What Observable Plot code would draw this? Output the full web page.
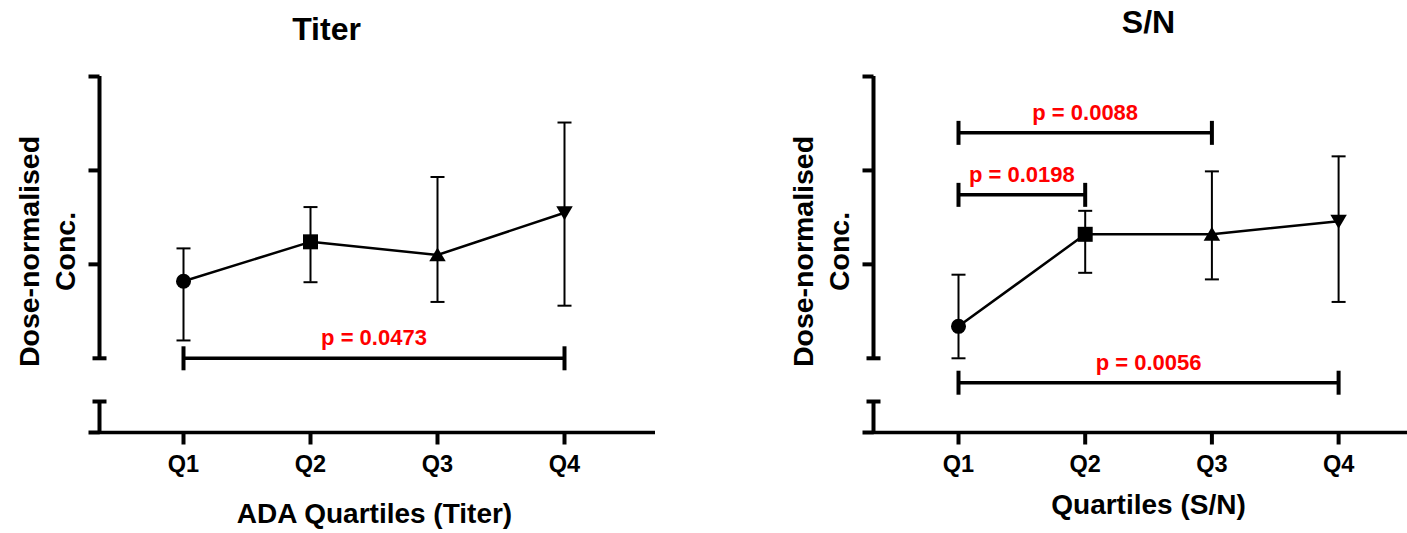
<!DOCTYPE html>
<html><head><meta charset="utf-8">
<script src="https://cdn.jsdelivr.net/npm/d3@7"></script>
<script src="https://cdn.jsdelivr.net/npm/@observablehq/plot@0.6"></script>
<style>
html,body{margin:0;padding:0;background:#fff;}
#wrap{display:flex;width:1407px;height:533px;overflow:hidden;}
#wrap svg{display:block;}
</style></head><body><div id="wrap"></div>
<script>
// ---- data ----
const quartiles = ["Q1", "Q2", "Q3", "Q4"];
// Titer panel: mean and error-bar limits (arbitrary dose-normalised units)
const titerMean = [1.82, 2.24, 2.10, 2.55];
const titerLow  = [1.19, 1.81, 1.60, 1.56];
const titerHigh = [2.17, 2.61, 2.93, 3.51];
// S/N panel
const snMean = [1.34, 2.32, 2.32, 2.46];
const snLow  = [1.00, 1.91, 1.84, 1.60];
const snHigh = [1.89, 2.57, 2.99, 3.15];
// significance brackets
const titerTestFrom = ["Q1"], titerTestTo = ["Q4"], titerTestLevel = [1.00], titerTestP = ["0.0473"];
const snTestFrom = ["Q1", "Q1", "Q1"], snTestTo = ["Q3", "Q2", "Q4"], snTestLevel = [3.40, 2.74, 0.74], snTestP = ["0.0088", "0.0198", "0.0056"];
// axis (unlabelled ticks, broken y axis)
const yTicks = [1, 2, 3, 4];
const yBreak = [0.21, 0.54];
const panelTitles = ["Titer", "S/N"];
const xTitles = ["ADA Quartiles (Titer)", "Quartiles (S/N)"];
const yTitleLines = ["Dose-normalised", "Conc."];

// ---- helpers ----
const FONT = "'Liberation Sans', Arial, Helvetica, sans-serif";
const sym = f => ({draw(c, size) { f(c, Math.sqrt(size / Math.PI)); }});
const hCap = sym((c, r) => { c.moveTo(-r, 0); c.lineTo(r, 0); });
const vCap = sym((c, r) => { c.moveTo(0, -r); c.lineTo(0, r); });
const leftTick = sym((c, r) => { c.moveTo(-r, 0); c.lineTo(0, 0); });
const downTick = sym((c, r) => { c.moveTo(0, 0); c.lineTo(0, r); });
const circle = sym((c, r) => { c.moveTo(r, 0); c.arc(0, 0, r, 0, 2 * Math.PI); });
const square = sym((c, r) => { c.rect(-r, -r, 2 * r, 2 * r); });
const triUp = sym((c, r) => { c.moveTo(0, -r * 1.0); c.lineTo(r * 1.1, r * 0.85); c.lineTo(-r * 1.1, r * 0.85); c.closePath(); });
const triDown = sym((c, r) => { c.moveTo(0, r * 1.0); c.lineTo(r * 1.1, -r * 0.85); c.lineTo(-r * 1.1, -r * 0.85); c.closePath(); });
const markerSymbols = [circle, square, triUp, triDown];

function panel(cfg) {
  const {width, axisPx, q1Px, stepPx, rightPx, mean, low, high, from, to, level, pv,
         title, titleDx, titleDy, xTitle, xTitleDx, xTitleDy} = cfg;
  const height = 533, top = 76, bottom = 432;
  const xDomain = [1 + (axisPx - q1Px) / stepPx, 1 + (rightPx - q1Px) / stepPx];
  const yMin = yBreak[0], yMax = yTicks[yTicks.length - 1];
  const rows = quartiles.map((q, i) => ({q, k: i + 1, mean: mean[i], low: low[i], high: high[i]}));
  const tests = from.map((f, i) => ({from: f, to: to[i], level: level[i], p: pv[i]}));
  const kOf = q => quartiles.indexOf(q) + 1;
  const bold = {fontFamily: FONT, fontWeight: "bold"};
  const x0 = () => xDomain[0];
  const marks = [
    // broken y axis
    Plot.ruleX([0], {x: x0, y1: () => yTicks[0], y2: () => yMax, stroke: "black", strokeWidth: 4}),
    Plot.ruleX([0], {x: x0, y1: () => yMin, y2: () => yBreak[1], stroke: "black", strokeWidth: 4}),
    Plot.dot([yMin, ...yTicks.slice(1)], {x: x0, y: d => d, symbol: leftTick, r: 11, stroke: "black", strokeWidth: 4, fill: "none"}),
    Plot.dot([yTicks[0], yBreak[1]], {x: x0, y: d => d, symbol: hCap, r: 7, stroke: "black", strokeWidth: 4, fill: "none"}),
    // x axis
    Plot.ruleY([yMin], {stroke: "black", strokeWidth: 3.5}),
    Plot.dot(rows, {x: "k", y: () => yMin, symbol: downTick, r: 12, stroke: "black", strokeWidth: 4, fill: "none"}),
    Plot.text(rows, {x: "k", y: () => yMin, text: "q", dy: 39, lineAnchor: "bottom", fontSize: 23.5, fill: "black", ...bold}),
    // error bars
    Plot.ruleX(rows, {x: "k", y1: "low", y2: "high", stroke: "black", strokeWidth: 2}),
    Plot.dot(rows, {x: "k", y: "low", symbol: hCap, r: 7, stroke: "black", strokeWidth: 2, fill: "none"}),
    Plot.dot(rows, {x: "k", y: "high", symbol: hCap, r: 7, stroke: "black", strokeWidth: 2, fill: "none"}),
    // connecting line
    Plot.line(rows, {x: "k", y: "mean", stroke: "black", strokeWidth: 2.5}),
    // markers
    ...rows.map((d, i) => Plot.dot([d], {x: "k", y: "mean", symbol: markerSymbols[i], r: 7.5, fill: "black", stroke: "none"})),
    // significance brackets
    Plot.ruleY(tests, {y: "level", x1: d => kOf(d.from), x2: d => kOf(d.to), stroke: "black", strokeWidth: 3.5}),
    Plot.dot(tests, {x: d => kOf(d.from), y: "level", symbol: vCap, r: 12, stroke: "black", strokeWidth: 4, fill: "none"}),
    Plot.dot(tests, {x: d => kOf(d.to), y: "level", symbol: vCap, r: 12, stroke: "black", strokeWidth: 4, fill: "none"}),
    Plot.text(tests, {x: d => (kOf(d.from) + kOf(d.to)) / 2, y: "level", text: d => `p = ${d.p}`, dy: -13, lineAnchor: "bottom", fontSize: 22, fill: "#ff0000", ...bold}),
    // titles
    Plot.text([title], {text: d => d, frameAnchor: "top", lineAnchor: "bottom", dx: titleDx, dy: titleDy, fontSize: 32, fill: "black", ...bold}),
    Plot.text([xTitle], {text: d => d, frameAnchor: "bottom", lineAnchor: "bottom", dx: xTitleDx, dy: xTitleDy, fontSize: 28, fill: "black", ...bold}),
    Plot.text([yTitleLines[0]], {text: d => d, frameAnchor: "left", rotate: -90, lineAnchor: "bottom", textAnchor: "middle", dx: -61, dy: -3, fontSize: 28.5, fill: "black", ...bold}),
    Plot.text([yTitleLines[1]], {text: d => d, frameAnchor: "left", rotate: -90, lineAnchor: "bottom", textAnchor: "middle", dx: -25, dy: -3, fontSize: 28.5, fill: "black", ...bold})
  ];
  return Plot.plot({
    width, height,
    marginTop: top, marginBottom: height - bottom, marginLeft: axisPx, marginRight: width - rightPx,
    x: {type: "linear", domain: xDomain, axis: null},
    y: {type: "linear", domain: [yMin, yMax], axis: null},
    style: {fontFamily: FONT, background: "white", color: "black", overflow: "visible"},
    marks
  });
}

const wrap = document.getElementById("wrap");
wrap.appendChild(panel({
  width: 703, axisPx: 99, q1Px: 183, stepPx: 127, rightPx: 655,
  mean: titerMean, low: titerLow, high: titerHigh,
  from: titerTestFrom, to: titerTestTo, level: titerTestLevel, pv: titerTestP,
  title: panelTitles[0], titleDx: -51, titleDy: -37,
  xTitle: xTitles[0], xTitleDx: -3, xTitleDy: 90
}));
wrap.appendChild(panel({
  width: 704, axisPx: 170, q1Px: 255, stepPx: 126.7, rightPx: 704,
  mean: snMean, low: snLow, high: snHigh,
  from: snTestFrom, to: snTestTo, level: snTestLevel, pv: snTestP,
  title: panelTitles[1], titleDx: 8, titleDy: -44,
  xTitle: xTitles[1], xTitleDx: 8, xTitleDy: 81
}));
</script></body></html>
